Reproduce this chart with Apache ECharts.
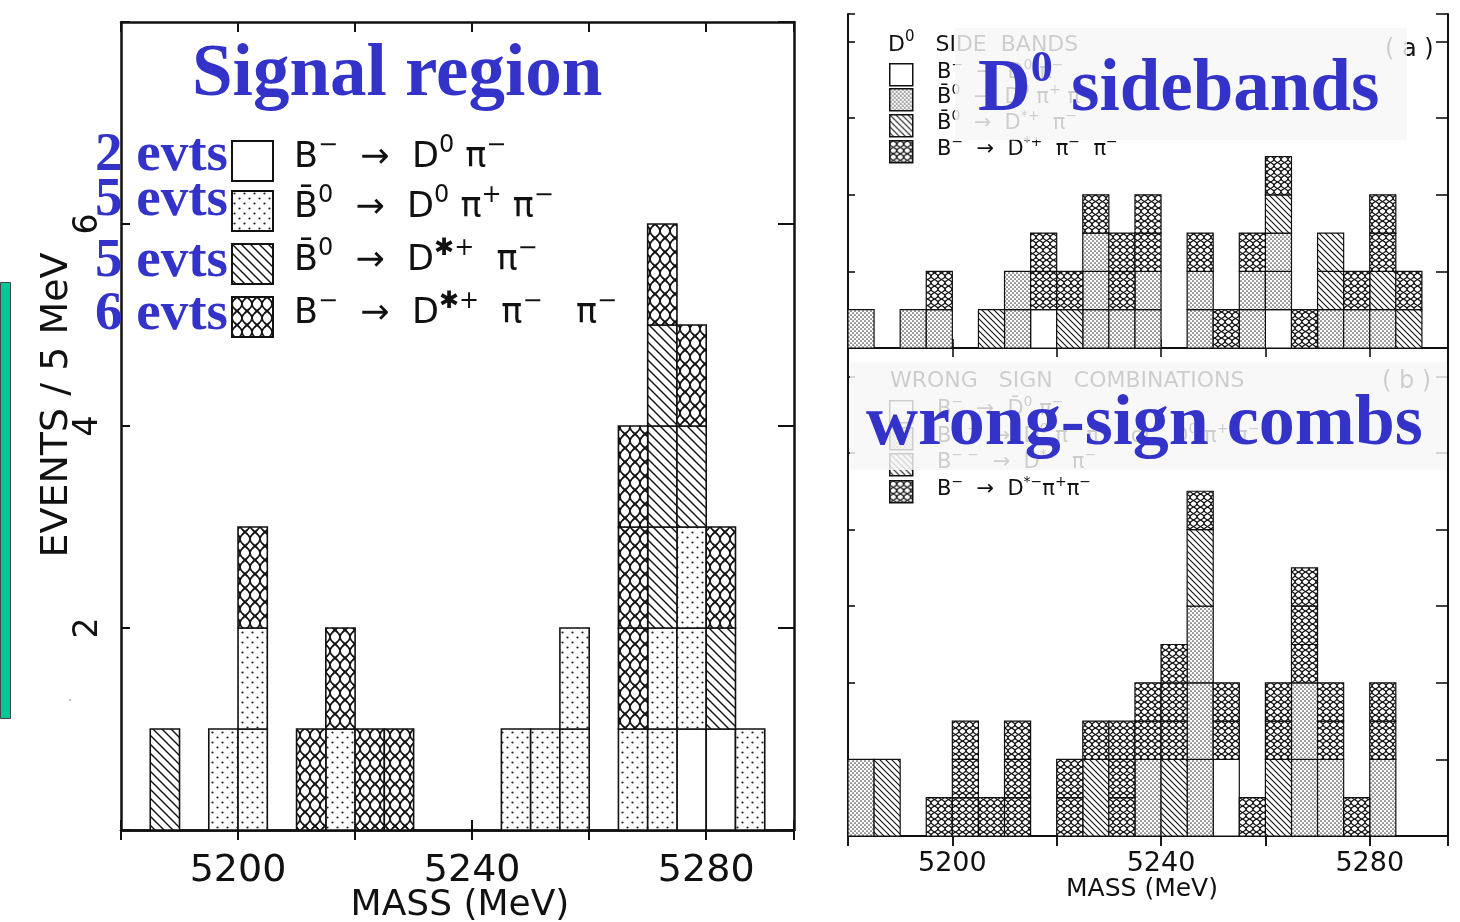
<!DOCTYPE html>
<html>
<head>
<meta charset="utf-8">
<script src="https://cdn.jsdelivr.net/npm/echarts@6/dist/echarts.min.js"></script>
<style>
  html, body { margin: 0; padding: 0; background: #ffffff; }
  #chart { width: 1460px; height: 922px; }
</style>
</head>
<body>
<div id="chart"></div>
<script>
// Lower edges of the 5 MeV mass bins (MeV)
const massBins = [5180, 5185, 5190, 5195, 5200, 5205, 5210, 5215, 5220, 5225, 5230, 5235,
                  5240, 5245, 5250, 5255, 5260, 5265, 5270, 5275, 5280, 5285, 5290];
const binWidth = 5;
const massTickLabels = [5200, 5240, 5280];
const eventTickLabels = [2, 4, 6];

// Decay channels, drawn bottom-to-top in every stack
const signalChannels = ['B^{−}  →  D^{0} π^{−}', 'B̄^{0}  →  D^{0} π^{+} π^{−}', 'B̄^{0}  →  D^{✱+}  π^{−}', 'B^{−}  →  D^{✱+}  π^{−}   π^{−}'];
const signalCounts = ['2 evts', '5 evts', '5 evts', '6 evts'];
const sidebandChannels = ['B^{−}  →  D^{0} π^{−}', 'B̄^{0}  →  D^{0} π^{+} π^{−}', 'B̄^{0}  →  D^{*+}  π^{−}', 'B^{−}  →  D^{*+}  π^{−}  π^{−}'];
const wrongSignChannels = ['B^{−}  →  D̄^{0} π^{−}', 'B^{− −}  →  D^{0} π^{−} π^{−}   or   D̄^{0} π^{+} π^{−}', 'B^{− −}  →  D^{*−}  π^{−}', 'B^{−}  →  D^{*−}π^{+}π^{−}'];

// Signal region: events per bin for each channel
const signalOpen    = [0,0,0,0,0,0,0,0,0,0,0,0,0,0,0,0,0,0,0,1,1,0,0];
const signalDotted  = [0,0,0,1,2,0,0,1,0,0,0,0,0,1,1,2,0,1,2,2,0,1,0];
const signalHatched = [0,1,0,0,0,0,0,0,0,0,0,0,0,0,0,0,0,0,3,1,1,0,0];
const signalNet     = [0,0,0,0,1,0,1,1,1,1,0,0,0,0,0,0,0,3,1,1,1,0,0];

// D0 side bands
const sidebandOpen    = [0,0,0,0,0,0,0,1,0,0,0,0,0,0,0,0,1,0,0,0,0,0,0];
const sidebandDotted  = [1,0,1,1,0,0,2,0,0,3,1,2,0,2,0,2,2,0,1,1,1,0,0];
const sidebandHatched = [0,0,0,0,0,1,0,0,1,0,0,0,0,0,0,0,1,0,2,0,1,1,0];
const sidebandNet     = [0,0,0,1,0,0,0,2,1,1,2,2,0,1,1,1,1,1,0,1,2,1,0];

// Wrong sign combinations
const wrongOpen    = [0,0,0,0,0,0,0,0,0,0,0,0,0,0,2,0,0,0,0,0,0,0,0];
const wrongDotted  = [2,0,0,0,0,0,0,0,0,0,0,2,0,6,0,0,0,4,2,0,2,0,0];
const wrongHatched = [0,2,0,0,0,0,0,0,0,2,0,0,2,2,0,0,2,0,0,0,0,0,0];
const wrongNet     = [0,0,0,1,3,1,3,0,2,1,3,2,3,1,2,1,2,3,2,1,2,0,0];

// ---------- fill patterns ----------
function makePattern(kind, scale) {
  const c = document.createElement('canvas');
  const ctx = c.getContext('2d');
  const big = scale === 'big';
  if (kind === 'open') {
    c.width = 4; c.height = 4;
    ctx.fillStyle = '#fff'; ctx.fillRect(0, 0, 4, 4);
  } else if (kind === 'dotted') {
    const s = big ? 10 : 4;
    const r = big ? 1.1 : 0.85;
    c.width = s; c.height = s;
    ctx.fillStyle = '#fff'; ctx.fillRect(0, 0, s, s);
    ctx.fillStyle = big ? '#222' : '#444';
    [[s * 0.25, s * 0.25], [s * 0.75, s * 0.75]].forEach(p => {
      ctx.beginPath(); ctx.arc(p[0], p[1], r, 0, Math.PI * 2); ctx.fill();
    });
  } else if (kind === 'hatched') {
    const s = big ? 9 : 6;
    c.width = s; c.height = s;
    ctx.fillStyle = '#fff'; ctx.fillRect(0, 0, s, s);
    ctx.strokeStyle = '#111'; ctx.lineWidth = big ? 1.4 : 1.1;
    ctx.beginPath();
    ctx.moveTo(-1, -1); ctx.lineTo(s + 1, s + 1);
    ctx.moveTo(s - 1, -1); ctx.lineTo(s + 1, 1);
    ctx.moveTo(-1, s - 1); ctx.lineTo(1, s + 1);
    ctx.stroke();
  } else if (kind === 'net') {
    const w = big ? 10 : 7;
    const h = big ? 28 : 13;
    c.width = w; c.height = h;
    ctx.fillStyle = '#fff'; ctx.fillRect(0, 0, w, h);
    ctx.strokeStyle = '#111'; ctx.lineWidth = big ? 1.8 : 1.3;
    [1, -1].forEach(sign => {
      ctx.beginPath();
      for (let y = -1; y <= h + 1; y += 0.5) {
        const x = w / 2 + sign * (w / 2) * Math.sin(2 * Math.PI * y / h);
        if (y === -1) ctx.moveTo(x, y); else ctx.lineTo(x, y);
      }
      ctx.stroke();
    });
  }
  return { image: c, repeat: 'repeat' };
}

const bigFills = ['open', 'dotted', 'hatched', 'net'].map(k => makePattern(k, 'big'));
const smallFills = ['open', 'dotted', 'hatched', 'net'].map(k => makePattern(k, 'small'));

// ---------- stacked histogram blocks ----------
function stackSeries(groups, xAxisIndex, yAxisIndex, fills, blockSizes, lineWidth) {
  const base = massBins.map(() => 0);
  return groups.map((counts, ci) => {
    const data = [];
    counts.forEach((n, i) => {
      if (n > 0) data.push([massBins[i], base[i], n]);
      base[i] += n;
    });
    const fill = fills[ci];
    const block = blockSizes[ci];
    return {
      type: 'custom',
      xAxisIndex, yAxisIndex,
      z: 3,
      silent: true,
      data,
      renderItem(params, api) {
        const x0 = api.value(0), y0 = api.value(1), n = api.value(2);
        const children = [];
        for (let k = 0; k < n; k += block) {
          const h = Math.min(block, n - k);
          const p0 = api.coord([x0, y0 + k]);
          const p1 = api.coord([x0 + binWidth, y0 + k + h]);
          children.push({
            type: 'rect',
            shape: { x: p0[0], y: p1[1], width: p1[0] - p0[0], height: p0[1] - p1[1] },
            style: { fill, stroke: '#111', lineWidth }
          });
        }
        return { type: 'group', children };
      }
    };
  });
}

// ---------- rich text with superscripts ----------
function richText(str) {
  let out = '';
  const re = /\^\{([^}]*)\}/g;
  let last = 0, m;
  while ((m = re.exec(str)) !== null) {
    if (m.index > last) out += '{n|' + str.slice(last, m.index) + '}';
    out += '{s|' + m[1] + '}';
    last = re.lastIndex;
  }
  if (last < str.length) out += '{n|' + str.slice(last) + '}';
  return out;
}
function richStyles(size, color) {
  const lh = Math.round(size * 1.2);
  return {
    n: { fontFamily: 'DejaVu Sans', fontSize: size, lineHeight: lh, verticalAlign: 'bottom', fill: color },
    s: { fontFamily: 'DejaVu Sans', fontSize: Math.round(size * 0.68), lineHeight: Math.round(size * 0.62), verticalAlign: 'top', fill: color }
  };
}

const sansFont = 'DejaVu Sans';
const serifBold = 'bold {size}px "Liberation Serif", "Times New Roman", serif';
const blue = '#3333C9';

function legendBlock(x, ys, boxW, boxH, textX, labels, fills, size, z, lw) {
  const els = [];
  labels.forEach((lab, i) => {
    els.push({
      type: 'rect', z, left: x, top: ys[i],
      shape: { width: boxW, height: boxH },
      style: { fill: fills[i], stroke: '#111', lineWidth: lw }
    });
    els.push({
      type: 'text', z, left: textX, top: ys[i] + boxH / 2 - size * 0.75,
      style: { text: richText(lab), rich: richStyles(size, '#111') }
    });
  });
  return els;
}

const graphics = [];

// side marker
graphics.push({ type: 'rect', z: 5, left: 0, top: 282, shape: { width: 10, height: 436 },
  style: { fill: '#00C896', stroke: '#444', lineWidth: 1 } });
graphics.push({ type: 'circle', z: 5, shape: { cx: 70, cy: 700, r: 1 }, style: { fill: '#aaa' } });

// axis titles
graphics.push({ type: 'text', z: 5, x: 57, y: 405, rotation: Math.PI / 2,
  style: { text: 'EVENTS / 5 MeV', font: '38px "DejaVu Sans"', fill: '#111', align: 'center', verticalAlign: 'middle' } });
graphics.push({ type: 'text', z: 5, x: 460, y: 906,
  style: { text: 'MASS (MeV)', font: '36px "DejaVu Sans"', fill: '#111', align: 'center', verticalAlign: 'middle' } });
graphics.push({ type: 'text', z: 5, x: 1142, y: 889,
  style: { text: 'MASS (MeV)', font: '25px "DejaVu Sans"', fill: '#111', align: 'center', verticalAlign: 'middle' } });

// signal region legend
graphics.push(...legendBlock(231, [140, 190, 243, 296], 41, 40, 294, signalChannels, bigFills, 35, 10, 2));

// side band legend
graphics.push({ type: 'text', z: 10, left: 888, top: 30,
  style: { text: richText('D^{0}   SIDE  BANDS'), rich: richStyles(22, '#111') } });
graphics.push({ type: 'text', z: 10, x: 1385, y: 50,
  style: { text: '( a )', font: '24px "DejaVu Sans"', fill: '#111', verticalAlign: 'middle' } });
graphics.push(...legendBlock(889, [63, 88, 114, 140], 23, 22, 937, sidebandChannels, smallFills, 21, 10, 1.5));

// wrong sign legend
graphics.push({ type: 'text', z: 10, x: 890, y: 381,
  style: { text: 'WRONG   SIGN   COMBINATIONS', font: '22px "DejaVu Sans"', fill: '#111', verticalAlign: 'middle' } });
graphics.push({ type: 'text', z: 10, x: 1382, y: 382,
  style: { text: '( b )', font: '24px "DejaVu Sans"', fill: '#111', verticalAlign: 'middle' } });
graphics.push(...legendBlock(889, [400, 427, 453, 480], 23, 22, 937, wrongSignChannels, smallFills, 21, 10, 1.5));

// translucent caption panels
graphics.push({ type: 'rect', z: 50, left: 955, top: 28, shape: { width: 452, height: 112 },
  style: { fill: 'rgba(247,247,247,0.82)' } });
graphics.push({ type: 'rect', z: 50, left: 850, top: 362, shape: { width: 597, height: 108 },
  style: { fill: 'rgba(247,247,247,0.82)' } });

// blue captions
graphics.push({ type: 'text', z: 60, x: 192, y: 76,
  style: { text: 'Signal region', font: serifBold.replace('{size}', 73), fill: blue, verticalAlign: 'middle' } });
signalCounts.forEach((t, i) => {
  graphics.push({ type: 'text', z: 60, x: 228, y: [156, 201, 262, 315][i],
    style: { text: t, font: serifBold.replace('{size}', 55), fill: blue, align: 'right', verticalAlign: 'middle' } });
});
graphics.push({ type: 'text', z: 60, left: 978, top: 48,
  style: { text: '{b|D}{s|0}{b| sidebands}', rich: {
    b: { font: serifBold.replace('{size}', 73), fill: blue, lineHeight: 80, verticalAlign: 'bottom' },
    s: { font: serifBold.replace('{size}', 44), fill: blue, lineHeight: 44, verticalAlign: 'top' } } } });
graphics.push({ type: 'text', z: 60, x: 866, y: 425,
  style: { text: 'wrong-sign combs', font: serifBold.replace('{size}', 72), fill: blue, verticalAlign: 'middle' } });

// ---------- axes ----------
function xAxes(grid, lw, labelSize, bottomLabels, tickLen, crossTicks) {
  const common = { type: 'value', gridIndex: grid, min: 5180, max: 5295, interval: 20,
    splitLine: { show: false }, axisLine: { lineStyle: { color: '#111', width: lw } } };
  const axes = [];
  axes.push(Object.assign({}, common, {
    position: 'bottom',
    axisTick: { show: true, inside: !bottomLabels, length: tickLen, lineStyle: { color: '#111', width: lw * 0.8 } },
    axisLabel: bottomLabels ? {
      show: true, fontFamily: sansFont, fontSize: labelSize, color: '#111', margin: bottomLabels,
      formatter: v => massTickLabels.indexOf(v) >= 0 ? String(v) : ''
    } : { show: false }
  }));
  if (crossTicks) {
    axes.push(Object.assign({}, common, { position: 'bottom',
      axisTick: { show: true, inside: true, length: tickLen, lineStyle: { color: '#111', width: lw * 0.8 } },
      axisLabel: { show: false } }));
  }
  axes.push(Object.assign({}, common, { position: 'top',
    axisTick: { show: true, inside: true, length: tickLen, lineStyle: { color: '#111', width: lw * 0.8 } },
    axisLabel: { show: false } }));
  return axes;
}
function yAxes(grid, max, lw, leftTick, rightTick, labels) {
  const common = { type: 'value', gridIndex: grid, min: 0, max, interval: 2,
    splitLine: { show: false }, axisLine: { lineStyle: { color: '#111', width: lw } } };
  return [
    Object.assign({}, common, { position: 'left',
      axisTick: { show: true, inside: true, length: leftTick, lineStyle: { color: '#111', width: lw * 0.8 } },
      axisLabel: labels ? { show: true, rotate: 90, fontFamily: sansFont, fontSize: 33, color: '#111', margin: 16,
        formatter: v => eventTickLabels.indexOf(v) >= 0 ? String(v) : '' } : { show: false } }),
    Object.assign({}, common, { position: 'right',
      axisTick: { show: true, inside: true, length: rightTick, lineStyle: { color: '#111', width: lw * 0.8 } },
      axisLabel: { show: false } })
  ];
}

// x axes: 0-2 signal, 3-4 side bands, 5-6 wrong sign
const xAxisList = [].concat(
  xAxes(0, 2.5, 38, 22, 10, true),
  xAxes(1, 2, 0, 0, 9, false),
  xAxes(2, 2, 27, 14, 10, false)
);
// y axes: 0-1 signal, 2-3 side bands, 4-5 wrong sign
const yAxisList = [].concat(
  yAxes(0, 8, 2.5, 9, 16, true),
  yAxes(1, 8.72, 2, 7, 12, false),
  yAxes(2, 12.74, 2, 7, 12, false)
);

const series = [].concat(
  stackSeries([signalOpen, signalDotted, signalHatched, signalNet], 0, 0, bigFills, [1, 1, 1, 1], 1.6),
  stackSeries([sidebandOpen, sidebandDotted, sidebandHatched, sidebandNet], 3, 2, smallFills, [1, 1, 1, 1], 1.2),
  stackSeries([wrongOpen, wrongDotted, wrongHatched, wrongNet], 5, 4, smallFills, [2, 2, 2, 1], 1.2)
);

const chart = echarts.init(document.getElementById('chart'), null, { renderer: 'canvas' });
chart.setOption({
  animation: false,
  backgroundColor: '#ffffff',
  grid: [
    { left: 121, top: 22, width: 673, height: 808 },
    { left: 848, top: 14, width: 600, height: 334 },
    { left: 848, top: 348, width: 600, height: 488 }
  ],
  xAxis: xAxisList,
  yAxis: yAxisList,
  series,
  graphic: { elements: graphics }
});
</script>
</body>
</html>
